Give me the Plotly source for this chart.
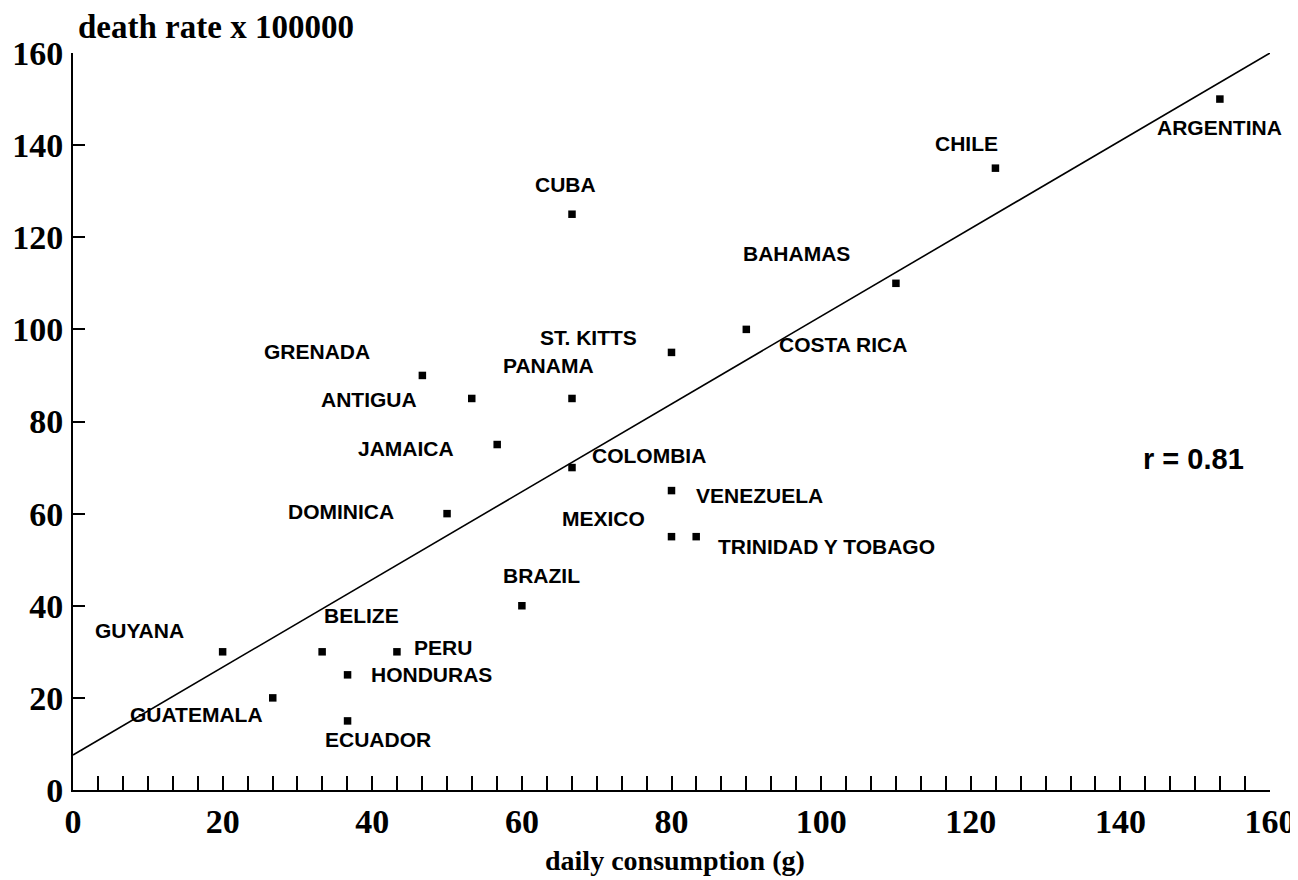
import plotly.graph_objects as go

countries = ["GUYANA", "GUATEMALA", "BELIZE", "HONDURAS", "ECUADOR", "PERU",
             "GRENADA", "DOMINICA", "ANTIGUA", "JAMAICA", "BRAZIL", "CUBA",
             "PANAMA", "COLOMBIA", "ST. KITTS", "VENEZUELA", "MEXICO",
             "TRINIDAD Y TOBAGO", "COSTA RICA", "BAHAMAS", "CHILE", "ARGENTINA"]
consumption = [20, 26.7, 33.3, 36.7, 36.7, 43.3,
               46.7, 50, 53.3, 56.7, 60, 66.7,
               66.7, 66.7, 80, 80, 80,
               83.3, 90, 110, 123.3, 153.3]
death_rate = [30, 20, 30, 25, 15, 30,
              90, 60, 85, 75, 40, 125,
              85, 70, 95, 65, 55,
              55, 100, 110, 135, 150]

fit_x = [0, 160]
fit_y = [7.6, 160]

x_ticks = [0, 20, 40, 60, 80, 100, 120, 140, 160]
y_ticks = [0, 20, 40, 60, 80, 100, 120, 140, 160]

# label placement: (xanchor, xshift, yshift)
label_pos = {
    "GUYANA": ("center", -83, 21),
    "GUATEMALA": ("center", -76, -17),
    "BELIZE": ("center", 39, 36),
    "HONDURAS": ("left", 21, 0),
    "ECUADOR": ("center", 30, -19),
    "PERU": ("left", 15, 4),
    "GRENADA": ("center", -105, 24),
    "DOMINICA": ("right", -51, 2),
    "ANTIGUA": ("right", -53, -1),
    "JAMAICA": ("right", -41, -4),
    "BRAZIL": ("center", 20, 30),
    "CUBA": ("center", -7, 30),
    "PANAMA": ("center", -24, 33),
    "COLOMBIA": ("left", 18, 12),
    "ST. KITTS": ("right", -33, 15),
    "VENEZUELA": ("left", 22, -5),
    "MEXICO": ("right", -25, 18),
    "TRINIDAD Y TOBAGO": ("left", 20, -10),
    "COSTA RICA": ("left", 31, -15),
    "BAHAMAS": ("center", -99, 30),
    "CHILE": ("center", -29, 25),
    "ARGENTINA": ("center", 0, -28),
}

fig = go.Figure()
fig.add_trace(go.Scatter(x=fit_x, y=fit_y, mode="lines",
                         line=dict(color="black", width=1.6),
                         hoverinfo="skip", cliponaxis=False))
fig.add_trace(go.Scatter(x=consumption, y=death_rate, mode="markers",
                         marker=dict(symbol="square", size=7.5, color="black"),
                         text=countries, cliponaxis=False))

lab_font = dict(family="Liberation Sans", size=21, color="black", weight="bold")
for c, xv, yv in zip(countries, consumption, death_rate):
    anc, xs, ys = label_pos[c]
    fig.add_annotation(x=xv, y=yv, xref="x", yref="y", text=c,
                       showarrow=False, xanchor=anc, yanchor="middle",
                       xshift=xs, yshift=ys, font=lab_font)

fig.add_annotation(x=0.9357, y=0.449, xref="paper", yref="paper",
                   text="r = 0.81", showarrow=False,
                   xanchor="center", yanchor="middle",
                   font=dict(family="Liberation Sans", size=29, color="black", weight="bold"))

fig.add_annotation(x=0.0025, y=1.0353, xref="paper", yref="paper",
                   text="death rate x 100000", showarrow=False,
                   xanchor="left", yanchor="middle",
                   font=dict(family="Liberation Serif", size=33, color="black", weight="bold"))

fig.add_annotation(x=0.503, y=-0.0963, xref="paper", yref="paper",
                   text="daily consumption (g)", showarrow=False,
                   xanchor="center", yanchor="middle",
                   font=dict(family="Liberation Serif", size=28, color="black", weight="bold"))

fig.update_layout(
    width=1290, height=872,
    margin=dict(l=65, r=28, t=45, b=90, autoexpand=False),
    plot_bgcolor="white", paper_bgcolor="white",
    showlegend=False,
    xaxis=dict(range=[0, 160], tickvals=x_ticks, ticktext=[str(v) for v in x_ticks],
               automargin=False,
               showgrid=False, zeroline=False, showline=True, linecolor="black",
               linewidth=2, ticks="inside", ticklen=14, tickwidth=2, tickcolor="black",
               minor=dict(dtick=20 / 6, tick0=0, ticks="inside", ticklen=14,
                          tickwidth=2, tickcolor="black", showgrid=False),
               tickfont=dict(family="Liberation Serif", size=34, color="black", weight="bold"),
               ticklabelstandoff=0),
    yaxis=dict(range=[0, 160], tickvals=y_ticks, ticktext=[str(v) for v in y_ticks],
               automargin=False,
               showgrid=False, zeroline=False, showline=True, linecolor="black",
               linewidth=2, ticks="inside", ticklen=12, tickwidth=2, tickcolor="black",
               tickfont=dict(family="Liberation Serif", size=34, color="black", weight="bold"),
               ticklabelstandoff=1),
)

fig.write_html("out.html")
